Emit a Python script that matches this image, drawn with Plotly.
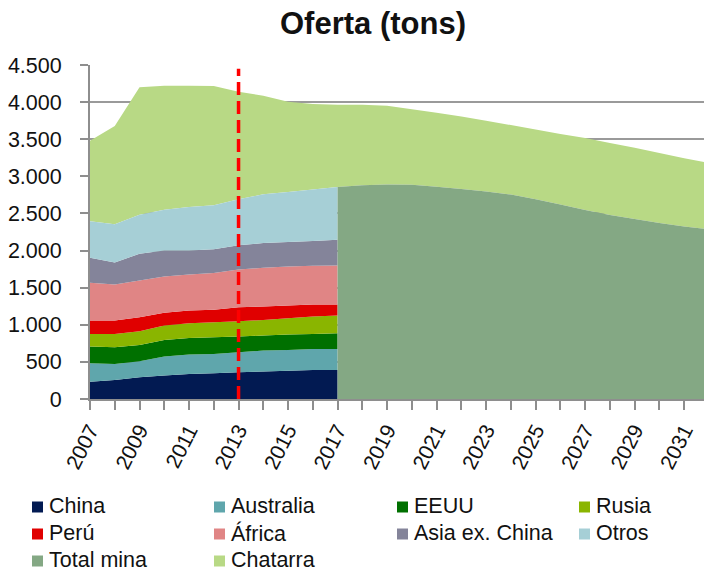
import plotly.graph_objects as go

# ---- data (thousand tons) ----
years = list(range(2007, 2033))
hist_years = years[:11]      # 2007-2017, mine supply by origin
proj_years = years[10:]      # 2017-2032, projected total mine supply
cutoff_year = 2013

china = [234, 256, 292, 315, 337, 346, 360, 369, 382, 391, 391]
australia = [247, 216, 216, 256, 261, 261, 270, 283, 279, 284, 284]
eeuu = [225, 225, 221, 225, 225, 225, 211, 203, 207, 202, 211]
rusia = [171, 180, 184, 194, 198, 203, 207, 211, 221, 234, 239]
peru = [180, 180, 189, 171, 171, 166, 189, 180, 171, 162, 148]
africa = [509, 486, 495, 490, 486, 495, 509, 522, 526, 522, 527]
asia_ex_china = [337, 297, 360, 351, 324, 320, 324, 333, 329, 333, 346]
otros = [491, 513, 527, 549, 585, 594, 621, 657, 675, 693, 711]
total_mina = [2855, 2880, 2891, 2885, 2860, 2830, 2795, 2755,
              2690, 2620, 2545, 2480, 2425, 2370, 2325, 2285]
chatarra = [1086, 1324, 1715, 1670, 1634, 1607, 1449, 1328, 1215, 1153,
            1110, 1085, 1059, 1020, 995, 975, 955, 935, 940, 950,
            970, 970, 960, 945, 920, 895]

series_names = ["China", "Australia", "EEUU", "Rusia", "Perú", "África",
                "Asia ex. China", "Otros", "Total mina", "Chatarra"]
series_colors = ["#021A52", "#5FA6AC", "#007000", "#8AB500", "#E00000",
                 "#E08585", "#84849A", "#A6CFD6", "#84A884", "#B8D985"]

# ---- geometry ----
W, H = 704, 576
ML, MR, MT, MB = 90, 0, 65, 177
PW, PH = W - ML - MR, H - MT - MB
FONT = "Arial, Liberation Sans, sans-serif"
AXIS_GRAY = "#8E8E8E"


def paper_x(px):
    return (px - ML) / PW


def paper_y(py):
    return (H - MB - py) / PH


hist_series = [china, australia, eeuu, rusia, peru, africa, asia_ex_china, otros]

# mine supply per year: sum by origin up to 2016, projected total afterwards
mine_supply = [sum(v) for v in zip(*hist_series)][:10] + total_mina

fig = go.Figure()

# scrap supply stacked on top of the mine supply (one seamless band)
fig.add_trace(go.Scatter(
    x=years, y=mine_supply, name="Mina", stackgroup="total", mode="none",
    fillcolor="rgba(0,0,0,0)", showlegend=False, hoverinfo="skip"))
fig.add_trace(go.Scatter(
    x=years, y=chatarra, name="Chatarra", stackgroup="total", mode="none",
    fillcolor=series_colors[9], showlegend=False))

# mine supply by origin
for name, vals, color in zip(series_names[:8], hist_series, series_colors[:8]):
    fig.add_trace(go.Scatter(
        x=hist_years, y=vals, name=name, stackgroup="hist", mode="none",
        fillcolor=color, showlegend=False))

# projected total mine supply
fig.add_trace(go.Scatter(
    x=proj_years, y=total_mina, name="Total mina", stackgroup="proj",
    mode="none", fillcolor=series_colors[8], showlegend=False))

# vertical marker at the cutoff year
fig.add_shape(type="line", xref="x", yref="y",
              x0=cutoff_year, x1=cutoff_year, y0=0, y1=4450,
              line=dict(color="#FF0000", width=3.5, dash="13px,6px"))

# legend: 4 columns x 3 rows of swatch + label
col_text_x = [48, 230, 413, 595]
row_y = [506, 533, 560]
for i, (name, color) in enumerate(zip(series_names, series_colors)):
    r, c = divmod(i, 4)
    tx, cy = col_text_x[c], row_y[r]
    fig.add_shape(type="rect", xref="paper", yref="paper",
                  x0=paper_x(tx - 16), x1=paper_x(tx - 5),
                  y0=paper_y(cy + 6.5), y1=paper_y(cy - 4.5),
                  fillcolor=color, line=dict(width=0))
    fig.add_annotation(text=name, xref="paper", yref="paper",
                       x=paper_x(tx - 1), y=paper_y(cy), xanchor="left",
                       yanchor="middle", showarrow=False,
                       font=dict(family=FONT, size=21.5, color="#111111"))

fig.update_layout(
    width=W, height=H,
    margin=dict(l=ML, r=MR, t=MT, b=MB, pad=0),
    paper_bgcolor="white", plot_bgcolor="white",
    separators=",.",
    showlegend=False,
    title=dict(text="<b>Oferta (tons)</b>", x=373 / W, xanchor="center",
               y=1 - 23 / H, yanchor="middle",
               font=dict(family=FONT, size=31, color="#111111")),
    xaxis=dict(
        range=[2007, 2031.8], tick0=2007, dtick=2, tickangle=-63,
        ticks="outside", ticklen=9, tickwidth=2, tickcolor=AXIS_GRAY,
        showline=True, linecolor=AXIS_GRAY, linewidth=2,
        showgrid=False, zeroline=False,
        minor=dict(tick0=2007, dtick=1, ticks="outside", ticklen=9,
                   tickwidth=2, tickcolor=AXIS_GRAY, showgrid=False),
        tickfont=dict(family=FONT, size=21, color="#111111")),
    yaxis=dict(
        range=[0, 4500], dtick=500, tickformat=",d",
        ticks="outside", ticklen=8, tickwidth=2, tickcolor=AXIS_GRAY,
        showline=True, linecolor=AXIS_GRAY, linewidth=2,
        showgrid=True, gridcolor="#9A9A9A", gridwidth=1.5,
        zeroline=False, ticklabelstandoff=14,
        tickfont=dict(family=FONT, size=21.5, color="#111111")),
)

fig.write_html("out.html")
